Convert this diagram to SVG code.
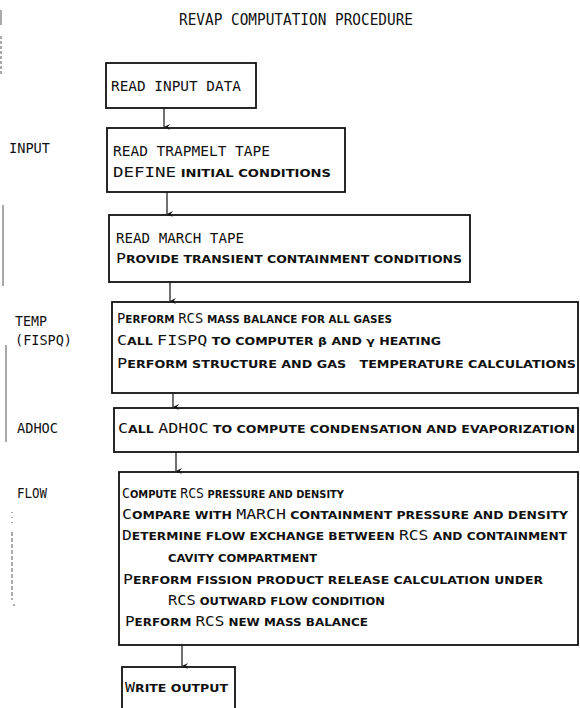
<svg xmlns="http://www.w3.org/2000/svg" width="580" height="708" viewBox="0 0 580 708">
<defs>
<marker id="ah" viewBox="0 0 8 8" refX="4" refY="8" markerWidth="6" markerHeight="6" markerUnits="userSpaceOnUse" orient="auto-start-reverse">
<path d="M0,0 L4,8 L8,0 L4,3 Z" fill="#111"/>
</marker>
<style>
text{font-family:"DejaVu Sans Mono","Liberation Mono",monospace;font-size:14px;fill:#111;}
.t{font-size:15px;}
.s{font-family:"DejaVu Sans","Liberation Sans",sans-serif;font-size:10.5px;font-weight:bold;}
.box{fill:none;stroke:#111;stroke-width:1.8;}
.arr{stroke:#111;stroke-width:1.2;fill:none;marker-end:url(#ah);}
.scan{stroke:#555;stroke-width:1;fill:none;}
</style>
</defs>
<rect width="580" height="708" fill="#fff"/>
<g id="scan-marks">
<line class="scan" x1="1" y1="10" x2="1" y2="25" stroke-width="2"/>
<line class="scan" x1="1" y1="36" x2="1" y2="76" stroke-dasharray="3 2"/>
<line class="scan" x1="3" y1="205" x2="3" y2="286"/>
<line class="scan" x1="6" y1="345" x2="6" y2="442"/>
<line class="scan" x1="12" y1="512" x2="12" y2="524" stroke-dasharray="1 4"/>
<line class="scan" x1="12" y1="532" x2="12" y2="600" stroke-dasharray="4 2"/>
<line class="scan" x1="14" y1="604" x2="14" y2="606"/>
</g>
<g id="title"><text class="t" x="179" y="25" textLength="234" lengthAdjust="spacingAndGlyphs">REVAP COMPUTATION PROCEDURE</text></g>
<g id="labels">
<text x="9" y="153" textLength="41" lengthAdjust="spacingAndGlyphs">INPUT</text>
<text x="15" y="326" textLength="32" lengthAdjust="spacingAndGlyphs">TEMP</text>
<text x="15" y="345" textLength="57" lengthAdjust="spacingAndGlyphs">(FISPQ)</text>
<text x="17" y="433" textLength="41" lengthAdjust="spacingAndGlyphs">ADHOC</text>
<text x="17" y="498" textLength="30" lengthAdjust="spacingAndGlyphs">FLOW</text>
</g>
<g id="connectors">
<line class="arr" x1="164" y1="108" x2="164" y2="127"/>
<line class="arr" x1="167" y1="192" x2="167" y2="214"/>
<line class="arr" x1="170" y1="282" x2="170" y2="301"/>
<line class="arr" x1="173" y1="393" x2="173" y2="407"/>
<line class="arr" x1="176" y1="452" x2="176" y2="471"/>
<line class="arr" x1="182" y1="645" x2="182" y2="666"/>
</g>
<g id="read-input">
<rect class="box" x="106" y="63" width="150" height="45"/>
<text x="111" y="91" textLength="130" lengthAdjust="spacingAndGlyphs">READ INPUT DATA</text>
</g>
<g id="trapmelt">
<rect class="box" x="107" y="128" width="238" height="64"/>
<text x="113" y="156" textLength="157" lengthAdjust="spacingAndGlyphs">READ TRAPMELT TAPE</text>
<text x="113" y="177" textLength="218" lengthAdjust="spacingAndGlyphs">DEFINE<tspan class="s"> INITIAL CONDITIONS</tspan></text>
</g>
<g id="march">
<rect class="box" x="109" y="215" width="361" height="67"/>
<text x="116" y="243" textLength="128" lengthAdjust="spacingAndGlyphs">READ MARCH TAPE</text>
<text x="116" y="263" textLength="346" lengthAdjust="spacingAndGlyphs">P<tspan class="s">ROVIDE TRANSIENT CONTAINMENT CONDITIONS</tspan></text>
</g>
<g id="temp">
<rect class="box" x="112" y="302" width="466" height="91"/>
<text x="117" y="323" textLength="275" lengthAdjust="spacingAndGlyphs">P<tspan class="s">ERFORM </tspan>RCS<tspan class="s"> MASS BALANCE FOR ALL GASES</tspan></text>
<text x="117" y="345" textLength="324" lengthAdjust="spacingAndGlyphs">C<tspan class="s">ALL </tspan>FISPQ<tspan class="s"> TO COMPUTER β AND γ HEATING</tspan></text>
<text x="117" y="368" textLength="459" lengthAdjust="spacingAndGlyphs" xml:space="preserve">P<tspan class="s">ERFORM STRUCTURE AND GAS   TEMPERATURE CALCULATIONS</tspan></text>
</g>
<g id="adhoc">
<rect class="box" x="114" y="408" width="464" height="44"/>
<text x="118" y="433" textLength="457" lengthAdjust="spacingAndGlyphs">C<tspan class="s">ALL </tspan>ADHOC<tspan class="s"> TO COMPUTE CONDENSATION AND EVAPORIZATION</tspan></text>
</g>
<g id="flow">
<rect class="box" x="119" y="472" width="459" height="173"/>
<text x="122" y="498" textLength="222" lengthAdjust="spacingAndGlyphs">C<tspan class="s">OMPUTE </tspan>RCS<tspan class="s"> PRESSURE AND DENSITY</tspan></text>
<text x="122" y="519" textLength="446" lengthAdjust="spacingAndGlyphs">C<tspan class="s">OMPARE WITH </tspan>MARCH<tspan class="s"> CONTAINMENT PRESSURE AND DENSITY</tspan></text>
<text x="122" y="540" textLength="445" lengthAdjust="spacingAndGlyphs">D<tspan class="s">ETERMINE FLOW EXCHANGE BETWEEN </tspan>RCS<tspan class="s"> AND CONTAINMENT</tspan></text>
<text class="s" x="168" y="562" textLength="149" lengthAdjust="spacingAndGlyphs">CAVITY COMPARTMENT</text>
<text x="123" y="584" textLength="420" lengthAdjust="spacingAndGlyphs">P<tspan class="s">ERFORM FISSION PRODUCT RELEASE CALCULATION UNDER</tspan></text>
<text x="168" y="605" textLength="217" lengthAdjust="spacingAndGlyphs">RCS<tspan class="s"> OUTWARD FLOW CONDITION</tspan></text>
<text x="125" y="626" textLength="243" lengthAdjust="spacingAndGlyphs">P<tspan class="s">ERFORM </tspan>RCS<tspan class="s"> NEW MASS BALANCE</tspan></text>
</g>
<g id="write-output">
<rect class="box" x="122" y="667" width="113" height="50"/>
<text x="125" y="692" textLength="103" lengthAdjust="spacingAndGlyphs">W<tspan class="s">RITE OUTPUT</tspan></text>
</g>
</svg>
